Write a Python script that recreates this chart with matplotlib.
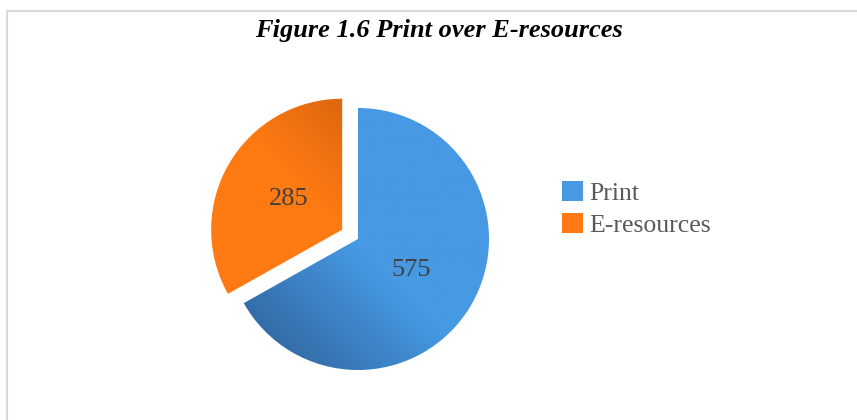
import numpy as np
import matplotlib
matplotlib.use('Agg')
import matplotlib.pyplot as plt
from matplotlib.colors import LinearSegmentedColormap
from matplotlib.patches import Patch
from matplotlib.lines import Line2D

# data
labels = ["Print", "E-resources"]
values = [575, 285]
explode = [0.0, 0.14]
light_colors = ["#4699E2", "#FF7A12"]
dark_colors = ["#336DA8", "#D05E0E"]

W, H = 857, 420
fig = plt.figure(figsize=(W / 100, H / 100), dpi=100)

# pie axes: center (358, 239) px, radius 131 px, limits +-1.5
R = 131
cx, cy = 358, 239
side = 3 * R
ax = fig.add_axes([(cx - side / 2) / W, (H - cy - side / 2) / H, side / W, side / H])

total = sum(values)
wedges, texts, autotexts = ax.pie(
    values, explode=explode, startangle=90, counterclock=False,
    autopct=lambda p: f"{p * total / 100:.0f}", pctdistance=0.47,
    textprops=dict(family='Liberation Serif', fontsize=19, color='#404040'),
    frame=True)
ax.set_xlim(-1.5, 1.5)
ax.set_ylim(-1.5, 1.5)
ax.axis('off')

# gradient fill, clipped to each wedge
xx, yy = np.meshgrid(np.linspace(-1.5, 1.5, 300), np.linspace(-1.5, 1.5, 300))
grads = [
    np.clip(-(xx + yy) / np.sqrt(2) / 0.95 - 0.05, 0, 1),   # blue: darker to lower left
    np.clip(((xx + 0.12) + (yy - 0.07)) / np.sqrt(2), 0, 1),  # orange: darker to upper right
]
for w, lc, dc, g in zip(wedges, light_colors, dark_colors, grads):
    cmap = LinearSegmentedColormap.from_list("g", [lc, dc])
    im = ax.imshow(g, cmap=cmap, vmin=0, vmax=1, extent=(-1.5, 1.5, -1.5, 1.5),
                   origin='lower', interpolation='bilinear', zorder=0.5)
    im.set_clip_path(w)
    w.set_facecolor('none')
    w.set_edgecolor('none')
ax.set_aspect('auto')

# title
fig.text(439 / W, 1 - 30 / H, "Figure 1.6 Print over E-resources",
         family='Liberation Serif', fontsize=19, fontweight='bold',
         style='italic', ha='center', va='center', color='black')

# legend
handles = [Patch(facecolor=c, edgecolor='none') for c in light_colors]
fig.legend(handles, labels, loc='center left',
           bbox_to_anchor=(562 / W, 1 - 209 / H), frameon=False,
           prop=dict(family='Liberation Serif', size=18.5),
           labelcolor='#595959', handlelength=0.8, handleheight=0.8,
           handletextpad=0.25, labelspacing=0.3, borderpad=0, borderaxespad=0)

# chart border
fig.add_artist(Line2D([7 / W, 7 / W, 1.05], [-0.1, 1 - 10.5 / H, 1 - 10.5 / H],
                      transform=fig.transFigure, color='#D9D9D9', lw=1.5))

fig.savefig('out.png', dpi=100, facecolor='white')
